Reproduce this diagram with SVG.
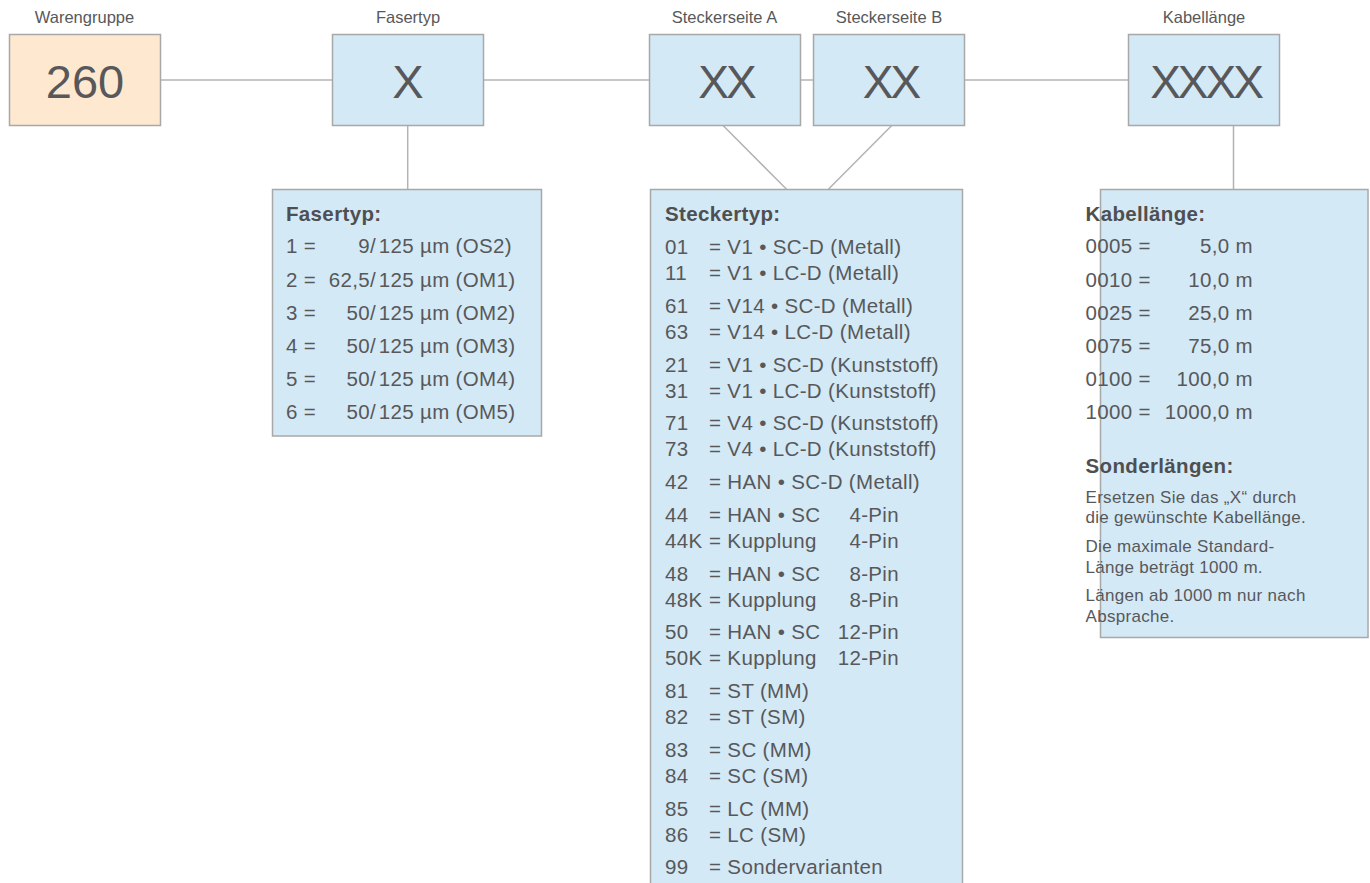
<svg xmlns="http://www.w3.org/2000/svg" width="1370" height="883" viewBox="0 0 1370 883">
<style>
text{font-family:"Liberation Sans",Arial,Helvetica,sans-serif;fill:#58585a}
.hd{font-size:16.5px;text-anchor:middle}
.big{font-size:47px;text-anchor:middle}
.xx{font-size:46px;letter-spacing:-3px;text-anchor:middle}
.t{font-size:20.5px;letter-spacing:0.35px}
.b{font-size:20.5px;font-weight:bold;letter-spacing:0.35px;fill:#4f4f51}
.s{font-size:17px;letter-spacing:0.3px}
.e{text-anchor:end}
.box{fill:#d3e9f6;stroke:#a8a8a8;stroke-width:1.5}
.org{fill:#fee8cf;stroke:#a8a8a8;stroke-width:1.5}
.con line{stroke:#b3b3b3;stroke-width:1.5}
</style>
<g id="connectors" class="con">
<line x1="160.7" y1="80" x2="332" y2="80"/>
<line x1="483.3" y1="80" x2="649" y2="80"/>
<line x1="800" y1="80" x2="813" y2="80"/>
<line x1="964" y1="80" x2="1128" y2="80"/>
<line x1="407.7" y1="125.3" x2="407.7" y2="189.3"/>
<line x1="1233.5" y1="125.3" x2="1233.5" y2="189.3"/>
<line x1="722.8" y1="125.3" x2="786.6" y2="189.3"/>
<line x1="892" y1="125.3" x2="828.4" y2="189.3"/>
</g>
<g id="n-warengruppe">
<text class="hd" x="84.5" y="22.5">Warengruppe</text>
<rect class="org" x="9.5" y="34.5" width="151" height="91"/>
<text class="big" x="85" y="97.7">260</text>
</g>
<g id="n-fasertyp">
<text class="hd" x="408" y="22.5">Fasertyp</text>
<rect class="box" x="332.5" y="34.5" width="151" height="91"/>
<text class="big" x="408" y="97.7">X</text>
</g>
<g id="n-steckerseite-a">
<text class="hd" x="724.5" y="22.5">Steckerseite A</text>
<rect class="box" x="649.5" y="34.5" width="151" height="91"/>
<text class="xx" x="726" y="97.7">XX</text>
</g>
<g id="n-steckerseite-b">
<text class="hd" x="889" y="22.5">Steckerseite B</text>
<rect class="box" x="813.5" y="34.5" width="151" height="91"/>
<text class="xx" x="890.5" y="97.7">XX</text>
</g>
<g id="n-kabellaenge">
<text class="hd" x="1204" y="22.5">Kabellänge</text>
<rect class="box" x="1128.5" y="34.5" width="151" height="91"/>
<text class="xx" x="1205.5" y="97.7">XXXX</text>
</g>
<g id="n-fasertyp-liste">
<rect class="box" x="272.5" y="189.5" width="269" height="246.5"/>
<text class="b" x="286" y="220.7">Fasertyp:</text>
<text class="t" x="286" y="253.3">1 =</text><text class="t e" x="376" y="253.3">9/</text><text class="t" x="378.7" y="253.3">125 µm (OS2)</text>
<text class="t" x="286" y="286.5">2 =</text><text class="t e" x="376" y="286.5">62,5/</text><text class="t" x="378.7" y="286.5">125 µm (OM1)</text>
<text class="t" x="286" y="319.7">3 =</text><text class="t e" x="376" y="319.7">50/</text><text class="t" x="378.7" y="319.7">125 µm (OM2)</text>
<text class="t" x="286" y="353">4 =</text><text class="t e" x="376" y="353">50/</text><text class="t" x="378.7" y="353">125 µm (OM3)</text>
<text class="t" x="286" y="386.2">5 =</text><text class="t e" x="376" y="386.2">50/</text><text class="t" x="378.7" y="386.2">125 µm (OM4)</text>
<text class="t" x="286" y="419.3">6 =</text><text class="t e" x="376" y="419.3">50/</text><text class="t" x="378.7" y="419.3">125 µm (OM5)</text>
</g>
<g id="n-steckertyp-liste">
<rect class="box" x="650.5" y="189.5" width="312" height="720"/>
<text class="b" x="665" y="220.7">Steckertyp:</text>
<text class="t" x="665" y="254">01</text><text class="t" x="709" y="254">= V1 • SC-D (Metall)</text>
<text class="t" x="665" y="280">11</text><text class="t" x="709" y="280">= V1 • LC-D (Metall)</text>
<text class="t" x="665" y="312.75">61</text><text class="t" x="709" y="312.75">= V14 • SC-D (Metall)</text>
<text class="t" x="665" y="338.75">63</text><text class="t" x="709" y="338.75">= V14 • LC-D (Metall)</text>
<text class="t" x="665" y="371.5">21</text><text class="t" x="709" y="371.5">= V1 • SC-D (Kunststoff)</text>
<text class="t" x="665" y="397.5">31</text><text class="t" x="709" y="397.5">= V1 • LC-D (Kunststoff)</text>
<text class="t" x="665" y="430.25">71</text><text class="t" x="709" y="430.25">= V4 • SC-D (Kunststoff)</text>
<text class="t" x="665" y="456.25">73</text><text class="t" x="709" y="456.25">= V4 • LC-D (Kunststoff)</text>
<text class="t" x="665" y="489">42</text><text class="t" x="709" y="489">= HAN • SC-D (Metall)</text>
<text class="t" x="665" y="521.75">44</text><text class="t" x="709" y="521.75">= HAN • SC</text><text class="t e" x="899" y="521.75">4-Pin</text>
<text class="t" x="665" y="547.75">44K</text><text class="t" x="709" y="547.75">= Kupplung</text><text class="t e" x="899" y="547.75">4-Pin</text>
<text class="t" x="665" y="580.5">48</text><text class="t" x="709" y="580.5">= HAN • SC</text><text class="t e" x="899" y="580.5">8-Pin</text>
<text class="t" x="665" y="606.5">48K</text><text class="t" x="709" y="606.5">= Kupplung</text><text class="t e" x="899" y="606.5">8-Pin</text>
<text class="t" x="665" y="639.25">50</text><text class="t" x="709" y="639.25">= HAN • SC</text><text class="t e" x="899" y="639.25">12-Pin</text>
<text class="t" x="665" y="665.25">50K</text><text class="t" x="709" y="665.25">= Kupplung</text><text class="t e" x="899" y="665.25">12-Pin</text>
<text class="t" x="665" y="698">81</text><text class="t" x="709" y="698">= ST (MM)</text>
<text class="t" x="665" y="724">82</text><text class="t" x="709" y="724">= ST (SM)</text>
<text class="t" x="665" y="756.75">83</text><text class="t" x="709" y="756.75">= SC (MM)</text>
<text class="t" x="665" y="782.75">84</text><text class="t" x="709" y="782.75">= SC (SM)</text>
<text class="t" x="665" y="815.5">85</text><text class="t" x="709" y="815.5">= LC (MM)</text>
<text class="t" x="665" y="841.5">86</text><text class="t" x="709" y="841.5">= LC (SM)</text>
<text class="t" x="665" y="874">99</text><text class="t" x="709" y="874">= Sondervarianten</text>
</g>
<g id="n-kabellaenge-liste">
<rect class="box" x="1100.5" y="189.5" width="267.5" height="448"/>
<text class="b" x="1085.5" y="220.7">Kabellänge:</text>
<text class="t" x="1085.5" y="253.3">0005 =</text><text class="t e" x="1253" y="253.3">5,0 m</text>
<text class="t" x="1085.5" y="286.5">0010 =</text><text class="t e" x="1253" y="286.5">10,0 m</text>
<text class="t" x="1085.5" y="319.7">0025 =</text><text class="t e" x="1253" y="319.7">25,0 m</text>
<text class="t" x="1085.5" y="353">0075 =</text><text class="t e" x="1253" y="353">75,0 m</text>
<text class="t" x="1085.5" y="386.2">0100 =</text><text class="t e" x="1253" y="386.2">100,0 m</text>
<text class="t" x="1085.5" y="419.3">1000 =</text><text class="t e" x="1253" y="419.3">1000,0 m</text>
<text class="b" x="1085.5" y="473.3">Sonderlängen:</text>
<text class="s" x="1085.5" y="502.7">Ersetzen Sie das „X“ durch</text>
<text class="s" x="1085.5" y="523.3">die gewünschte Kabellänge.</text>
<text class="s" x="1085.5" y="551.7">Die maximale Standard-</text>
<text class="s" x="1085.5" y="572.7">Länge beträgt 1000 m.</text>
<text class="s" x="1085.5" y="600.7">Längen ab 1000 m nur nach</text>
<text class="s" x="1085.5" y="621.7">Absprache.</text>
</g>
</svg>
